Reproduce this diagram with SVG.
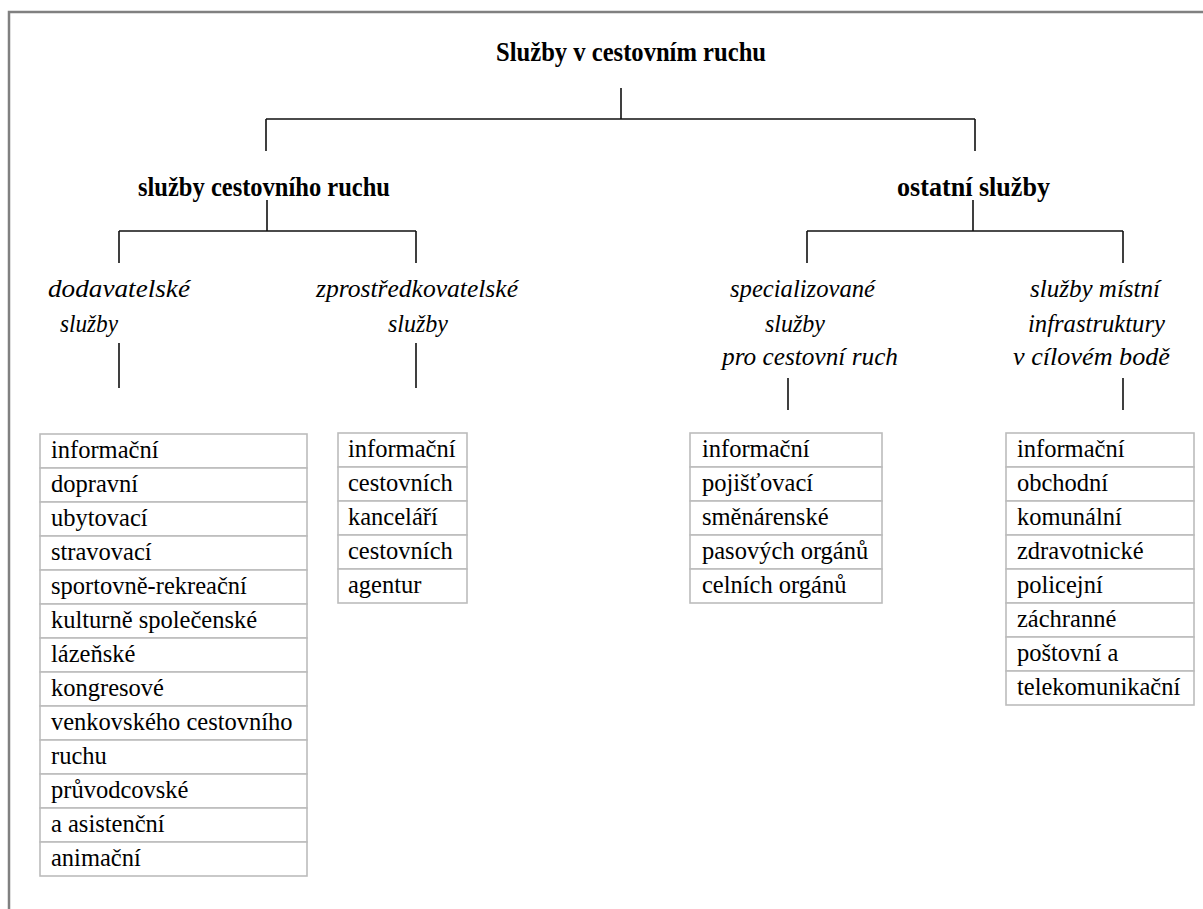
<svg xmlns="http://www.w3.org/2000/svg" width="1203" height="909" viewBox="0 0 1203 909">
<style>
.frame{fill:none;stroke:#808080;stroke-width:2.5}
.ln{fill:none;stroke:#111;stroke-width:1.6}
.cell{fill:#fff;stroke:#bcbcbc;stroke-width:1.6}
.t{font-family:'Liberation Serif','DejaVu Serif','Noto Serif',serif;font-weight:bold;font-size:27px;fill:#000}
.i{font-family:'Liberation Serif','DejaVu Serif','Noto Serif',serif;font-style:italic;font-size:25px;fill:#000}
.c{font-family:'Liberation Serif','DejaVu Serif','Noto Serif',serif;font-size:24.5px;fill:#000}
</style>
<rect width="1203" height="909" fill="#fff"/>
<path class="frame" d="M9,909 V12 H1203"/>
<g id="connectors">
<path class="ln" d="M621,88 V119 M266,119 H975 M266,119 V151 M975,119 V151"/>
<path class="ln" d="M267,200 V231 M119,231 H416 M119,231 V263 M416,231 V263 M119,343 V388 M416,343 V388"/>
<path class="ln" d="M973,200 V231 M807,231 H1123 M807,231 V263 M1123,231 V263 M788,378 V410 M1123,378 V410"/>
</g>
<g id="root"><text class="t" x="496" y="61" textLength="270" lengthAdjust="spacingAndGlyphs">Služby v cestovním ruchu</text></g>
<g id="sluzby-cr"><text class="t" x="138" y="196" textLength="252" lengthAdjust="spacingAndGlyphs">služby cestovního ruchu</text></g>
<g id="ostatni"><text class="t" x="897" y="196" textLength="153" lengthAdjust="spacingAndGlyphs">ostatní služby</text></g>
<g id="dodavatelske">
<text class="i" x="48" y="297" textLength="142" lengthAdjust="spacingAndGlyphs">dodavatelské</text>
<text class="i" x="60" y="332" textLength="58" lengthAdjust="spacingAndGlyphs">služby</text>
</g>
<g id="zprostredkovatelske">
<text class="i" x="316" y="297" textLength="202" lengthAdjust="spacingAndGlyphs">zprostředkovatelské</text>
<text class="i" x="388" y="332" textLength="60" lengthAdjust="spacingAndGlyphs">služby</text>
</g>
<g id="specializovane">
<text class="i" x="730" y="297" textLength="145" lengthAdjust="spacingAndGlyphs">specializované</text>
<text class="i" x="765" y="332" textLength="60" lengthAdjust="spacingAndGlyphs">služby</text>
<text class="i" x="722" y="365" textLength="176" lengthAdjust="spacingAndGlyphs">pro cestovní ruch</text>
</g>
<g id="mistni">
<text class="i" x="1030" y="297" textLength="130" lengthAdjust="spacingAndGlyphs">služby místní</text>
<text class="i" x="1028" y="332" textLength="137" lengthAdjust="spacingAndGlyphs">infrastruktury</text>
<text class="i" x="1013" y="365" textLength="157" lengthAdjust="spacingAndGlyphs">v cílovém bodě</text>
</g>
<g id="table-dodavatelske">
<rect class="cell" x="40" y="434" width="267" height="34"/>
<rect class="cell" x="40" y="468" width="267" height="34"/>
<rect class="cell" x="40" y="502" width="267" height="34"/>
<rect class="cell" x="40" y="536" width="267" height="34"/>
<rect class="cell" x="40" y="570" width="267" height="34"/>
<rect class="cell" x="40" y="604" width="267" height="34"/>
<rect class="cell" x="40" y="638" width="267" height="34"/>
<rect class="cell" x="40" y="672" width="267" height="34"/>
<rect class="cell" x="40" y="706" width="267" height="34"/>
<rect class="cell" x="40" y="740" width="267" height="34"/>
<rect class="cell" x="40" y="774" width="267" height="34"/>
<rect class="cell" x="40" y="808" width="267" height="34"/>
<rect class="cell" x="40" y="842" width="267" height="34"/>
<text class="c" x="51" y="458">informační</text>
<text class="c" x="51" y="492">dopravní</text>
<text class="c" x="51" y="526">ubytovací</text>
<text class="c" x="51" y="560">stravovací</text>
<text class="c" x="51" y="594">sportovně-rekreační</text>
<text class="c" x="51" y="628">kulturně společenské</text>
<text class="c" x="51" y="662">lázeňské</text>
<text class="c" x="51" y="696">kongresové</text>
<text class="c" x="51" y="730">venkovského cestovního</text>
<text class="c" x="51" y="764">ruchu</text>
<text class="c" x="51" y="798">průvodcovské</text>
<text class="c" x="51" y="832">a asistenční</text>
<text class="c" x="51" y="866">animační</text>
</g>
<g id="table-zprostredkovatelske">
<rect class="cell" x="338" y="433" width="129" height="34"/>
<rect class="cell" x="338" y="467" width="129" height="34"/>
<rect class="cell" x="338" y="501" width="129" height="34"/>
<rect class="cell" x="338" y="535" width="129" height="34"/>
<rect class="cell" x="338" y="569" width="129" height="34"/>
<text class="c" x="348" y="457">informační</text>
<text class="c" x="348" y="491">cestovních</text>
<text class="c" x="348" y="525">kanceláří</text>
<text class="c" x="348" y="559">cestovních</text>
<text class="c" x="348" y="593">agentur</text>
</g>
<g id="table-specializovane">
<rect class="cell" x="690" y="433" width="192" height="34"/>
<rect class="cell" x="690" y="467" width="192" height="34"/>
<rect class="cell" x="690" y="501" width="192" height="34"/>
<rect class="cell" x="690" y="535" width="192" height="34"/>
<rect class="cell" x="690" y="569" width="192" height="34"/>
<text class="c" x="702" y="457">informační</text>
<text class="c" x="702" y="491">pojišťovací</text>
<text class="c" x="702" y="525">směnárenské</text>
<text class="c" x="702" y="559">pasových orgánů</text>
<text class="c" x="702" y="593">celních orgánů</text>
</g>
<g id="table-mistni">
<rect class="cell" x="1006" y="433" width="188" height="34"/>
<rect class="cell" x="1006" y="467" width="188" height="34"/>
<rect class="cell" x="1006" y="501" width="188" height="34"/>
<rect class="cell" x="1006" y="535" width="188" height="34"/>
<rect class="cell" x="1006" y="569" width="188" height="34"/>
<rect class="cell" x="1006" y="603" width="188" height="34"/>
<rect class="cell" x="1006" y="637" width="188" height="34"/>
<rect class="cell" x="1006" y="671" width="188" height="34"/>
<text class="c" x="1017" y="457">informační</text>
<text class="c" x="1017" y="491">obchodní</text>
<text class="c" x="1017" y="525">komunální</text>
<text class="c" x="1017" y="559">zdravotnické</text>
<text class="c" x="1017" y="593">policejní</text>
<text class="c" x="1017" y="627">záchranné</text>
<text class="c" x="1017" y="661">poštovní a</text>
<text class="c" x="1017" y="695">telekomunikační</text>
</g>
</svg>
